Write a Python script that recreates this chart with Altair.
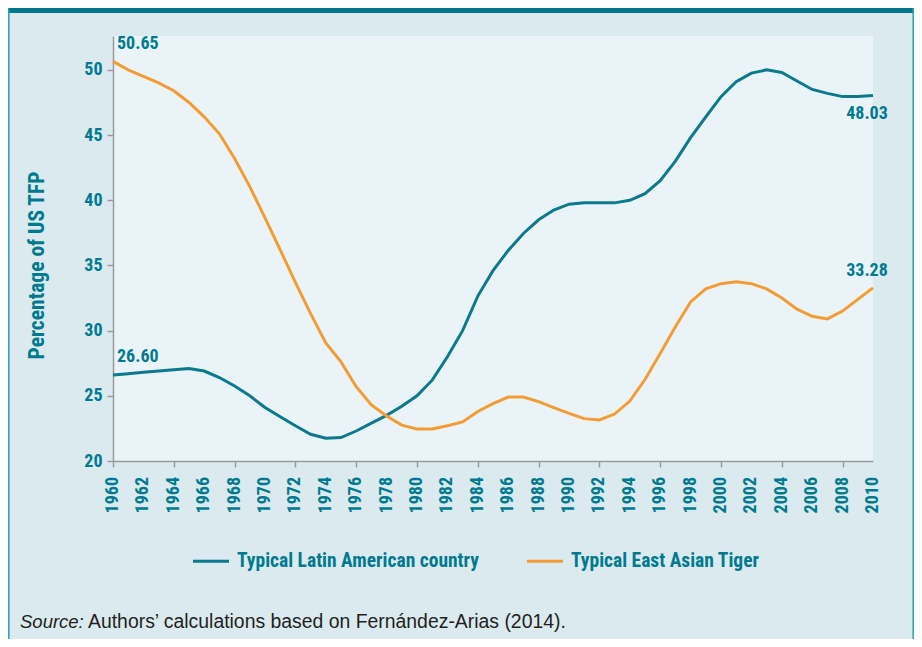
import altair as alt
import pandas as pd

years = list(range(1960, 2011))
latin = [26.60, 26.70, 26.80, 26.90, 27.00, 27.10, 26.90, 26.40, 25.75, 25.00,
         24.10, 23.40, 22.70, 22.05, 21.75, 21.80, 22.30, 22.90, 23.50, 24.20,
         25.00, 26.20, 28.00, 30.00, 32.65, 34.60, 36.15, 37.45, 38.50, 39.25,
         39.70, 39.80, 39.80, 39.80, 40.00, 40.50, 41.50, 43.00, 44.80, 46.40,
         47.95, 49.10, 49.75, 50.00, 49.80, 49.15, 48.50, 48.20, 47.95, 47.95, 48.03]
east = [50.65, 50.00, 49.50, 49.00, 48.40, 47.50, 46.40, 45.10, 43.20, 41.05,
        38.65, 36.20, 33.70, 31.30, 29.05, 27.60, 25.70, 24.30, 23.45, 22.75,
        22.45, 22.45, 22.70, 23.00, 23.80, 24.40, 24.90, 24.90, 24.55, 24.10,
        23.65, 23.25, 23.15, 23.60, 24.60, 26.25, 28.25, 30.30, 32.20, 33.20,
        33.60, 33.75, 33.60, 33.20, 32.50, 31.65, 31.10, 30.90, 31.50, 32.40, 33.28]
series_names = ["Typical Latin American country", "Typical East Asian Tiger"]
y_ticks = [20, 25, 30, 35, 40, 45, 50]
x_label_years = [y for y in years if y % 2 == 0]

label_years = [1960, 1960, 2010, 2010]
label_values = [50.65, 26.60, 48.03, 33.28]
label_pos = ["start", "start", "end_below", "end_above"]

source_italic = "Source:"
source_rest = "Authors\u2019 calculations based on Fern\u00e1ndez-Arias (2014)."

FONT = "'Roboto Condensed', 'Open Sans Condensed', 'Noto Sans Condensed', Roboto, sans-serif"
SRC_FONT = "'Liberation Sans', Arial, sans-serif"
TEAL = "#007a8f"
LINE_TEAL = "#0a7a8c"
ORANGE = "#f39c33"
BG = "#dbeaef"
PLOT_BG = "#eaf4f8"
GRAY = "#9a9a9a"

df = pd.DataFrame({
    "year": years * 2,
    "value": latin + east,
    "series": [series_names[0]] * len(years) + [series_names[1]] * len(years),
})
lab = pd.DataFrame({"year": label_years, "value": label_values, "pos": label_pos})
xlab = pd.DataFrame({"year": x_label_years})

x_scale = alt.Scale(domain=[1960, 2010], nice=False, zero=False)
x_enc = alt.X(
    "year:Q",
    scale=x_scale,
    axis=alt.Axis(
        values=years, labels=False,
        tickSize=6, tickWidth=1.5, tickColor=GRAY,
        domainColor=GRAY, domainWidth=1.5, grid=False, title=None,
    ),
)
y_enc = alt.Y(
    "value:Q",
    scale=alt.Scale(domain=[20, 52.6], nice=False, zero=False),
    axis=alt.Axis(
        values=y_ticks, format="d",
        labelFont=FONT, labelFontSize=18, labelFontWeight="bold", labelColor=TEAL,
        labelPadding=5, tickSize=6, tickWidth=1.5, tickColor=GRAY,
        domainColor=GRAY, domainWidth=1.5, grid=False,
        title="Percentage of US TFP", titleFont=FONT, titleFontSize=21.5,
        titleFontWeight="bold", titleColor=TEAL,
        titleX=-76, titleY=229, titleBaseline="middle", titleAlign="center", titleAngle=270,
    ),
)

lines = alt.Chart(df).mark_line(strokeWidth=3).encode(
    x=x_enc, y=y_enc,
    color=alt.Color(
        "series:N",
        scale=alt.Scale(domain=series_names, range=[LINE_TEAL, ORANGE]),
        legend=alt.Legend(
            title=None, orient="none", legendX=78, legendY=505,
            direction="horizontal", symbolType="stroke", symbolSize=1300,
            symbolStrokeWidth=3, labelFont=FONT, labelFontSize=19.5,
            labelFontWeight="bold", labelColor=TEAL, labelLimit=0,
            columnPadding=41, labelOffset=6,
        ),
    ),
)

x_labels = alt.Chart(xlab).mark_text(
    angle=270, align="right", baseline="middle",
    font=FONT, fontSize=18, fontWeight="bold", color=TEAL,
).encode(
    x=alt.X("year:Q", scale=x_scale),
    y=alt.value(441),
    text=alt.Text("year:Q", format="d"),
)

base_lab = alt.Chart(lab).encode(
    x=alt.X("year:Q"), y=alt.Y("value:Q"),
    text=alt.Text("value:Q", format=".2f"),
)
txt_style = dict(font=FONT, fontSize=18, fontWeight="bold", color=TEAL)
lab_start = base_lab.transform_filter(alt.datum.pos == "start").mark_text(
    align="left", baseline="middle", dx=4, dy=-17.5, **txt_style)
lab_end_below = base_lab.transform_filter(alt.datum.pos == "end_below").mark_text(
    align="center", baseline="middle", dx=-6, dy=18, **txt_style)
lab_end_above = base_lab.transform_filter(alt.datum.pos == "end_above").mark_text(
    align="center", baseline="middle", dx=-6, dy=-17, **txt_style)

top_bar = alt.Chart(pd.DataFrame({"k": [0]})).mark_rect(color="#00778f").encode(
    x=alt.value(-105), x2=alt.value(801), y=alt.value(-28), y2=alt.value(-23))
left_border = alt.Chart(pd.DataFrame({"k": [0]})).mark_rule(color="#2a9db6", strokeWidth=1.5).encode(
    x=alt.value(-104.2), y=alt.value(-28), y2=alt.value(603))
right_border = alt.Chart(pd.DataFrame({"k": [0]})).mark_rule(color="#2a9db6", strokeWidth=1.5).encode(
    x=alt.value(800.2), y=alt.value(-28), y2=alt.value(603))

src1 = alt.Chart(pd.DataFrame({"t": [source_italic]})).mark_text(
    align="left", baseline="middle", font=SRC_FONT, fontSize=18.5, fontStyle="italic", color="#231f20"
).encode(text="t:N", x=alt.value(-93), y=alt.value(586))
src2 = alt.Chart(pd.DataFrame({"t": [source_rest]})).mark_text(
    align="left", baseline="middle", font=SRC_FONT, fontSize=19.4, color="#231f20"
).encode(text="t:N", x=alt.value(-25), y=alt.value(586))

chart = alt.layer(
    top_bar, left_border, right_border, lines, x_labels,
    lab_start, lab_end_below, lab_end_above, src1, src2
).properties(
    width=760, height=425,
    autosize=alt.AutoSizeParams(type="none"),
    padding={"left": 105, "top": 28, "right": 41, "bottom": 178},
    background=BG,
).configure_view(fill=PLOT_BG, stroke=None)

chart.save("out.html", embed_options={"renderer": "svg", "actions": False})
